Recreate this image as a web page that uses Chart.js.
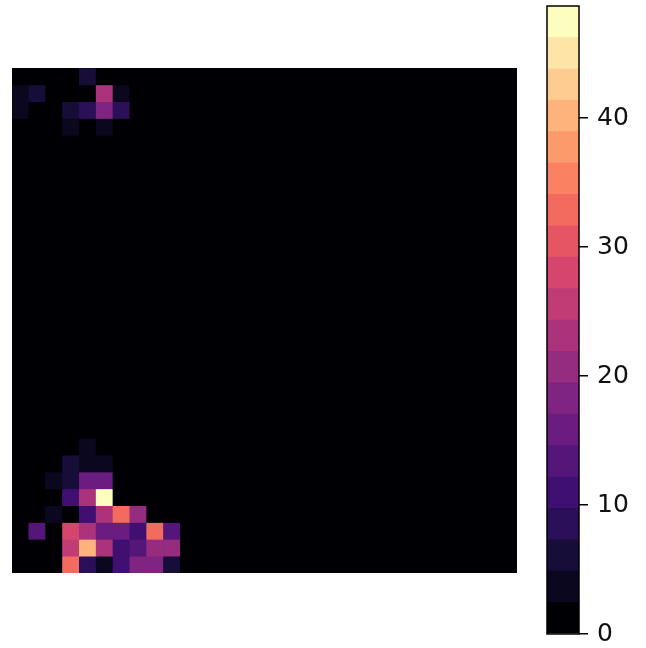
<!DOCTYPE html>
<html>
<head>
<meta charset="utf-8">
<script src="https://cdn.jsdelivr.net/npm/chart.js@4.4.1/dist/chart.umd.min.js"></script>
<style>
  body { margin: 0; background: #fff; width: 646px; height: 648px; overflow: hidden; position: relative; }
  canvas { position: absolute; top: 0; }
  #heat { left: 0; }
  #cbar { left: 540px; }
</style>
</head>
<body>
<canvas id="heat" width="530" height="600"></canvas>
<canvas id="cbar" width="106" height="648"></canvas>
<script>
// grid is 30 x 30, row 0 at the top
const gridSize = 30;
const colLabels = Array.from({ length: gridSize }, (_, i) => String(i));

// non-zero cells: [row, col, value]
const hotCells = [
  [0, 4, 6],
  [1, 0, 3], [1, 1, 6], [1, 5, 24], [1, 6, 3],
  [2, 0, 3], [2, 3, 6], [2, 4, 9], [2, 5, 18], [2, 6, 9],
  [3, 3, 3], [3, 5, 3],
  [22, 4, 3],
  [23, 3, 6], [23, 4, 3], [23, 5, 3],
  [24, 2, 3], [24, 3, 6], [24, 4, 16], [24, 5, 16],
  [25, 3, 11], [25, 4, 24], [25, 5, 48.7],
  [26, 2, 3], [26, 4, 11], [26, 5, 23], [26, 6, 33], [26, 7, 20],
  [27, 1, 13], [27, 3, 28.5], [27, 4, 23.5], [27, 5, 16], [27, 6, 16], [27, 7, 11], [27, 8, 34], [27, 9, 13],
  [28, 3, 26], [28, 4, 40], [28, 5, 23], [28, 6, 11], [28, 7, 13], [28, 8, 21], [28, 9, 21],
  [29, 3, 33], [29, 4, 8], [29, 5, 3], [29, 6, 11], [29, 7, 19], [29, 8, 19], [29, 9, 6],
];

const colorbarTicks = [0, 10, 20, 30, 40];
const nLevels = 20;

// magma anchors every 0.1
const magmaStops = [
  [0, 0, 4], [20, 14, 54], [59, 15, 112], [100, 26, 128], [140, 41, 129],
  [183, 55, 121], [222, 73, 104], [247, 112, 92], [254, 159, 109],
  [254, 207, 146], [252, 253, 191],
];

function magma(t) {
  t = Math.max(0, Math.min(1, t));
  const pos = t * (magmaStops.length - 1);
  const i = Math.min(Math.floor(pos), magmaStops.length - 2);
  const f = pos - i;
  const a = magmaStops[i], b = magmaStops[i + 1];
  const c = a.map((v, k) => Math.round(v + (b[k] - v) * f));
  return `rgb(${c[0]}, ${c[1]}, ${c[2]})`;
}

const vmax = Math.max(...hotCells.map((c) => c[2]));
const levelColors = Array.from({ length: nLevels }, (_, i) => magma(i / (nLevels - 1)));

function colorFor(v) {
  const lvl = Math.min(nLevels - 1, Math.floor((v / vmax) * nLevels));
  return levelColors[lvl];
}

// build the value grid
const grid = Array.from({ length: gridSize }, () => Array(gridSize).fill(0));
hotCells.forEach(([r, c, v]) => { grid[r][c] = v; });

const fillArea = {
  id: "fillArea",
  beforeDatasetsDraw(chart) {
    const { ctx, chartArea: a } = chart;
    ctx.save();
    ctx.fillStyle = levelColors[0];
    ctx.fillRect(a.left, a.top, a.right - a.left, a.bottom - a.top);
    ctx.restore();
  },
};

new Chart(document.getElementById("heat"), {
  type: "bar",
  data: {
    labels: colLabels,
    datasets: grid.map((row, r) => ({
      label: "row " + r,
      data: row.map(() => 1),
      backgroundColor: row.map((v) => colorFor(v)),
      borderWidth: 0,
      barPercentage: 1,
      categoryPercentage: 1,
    })),
  },
  options: {
    responsive: false,
    animation: false,
    layout: { padding: { left: 12, top: 68, right: 13, bottom: 27 } },
    plugins: { legend: { display: false }, tooltip: { enabled: false } },
    scales: {
      x: { stacked: true, display: false },
      y: { stacked: true, display: false, min: 0, max: gridSize, reverse: true },
    },
  },
  plugins: [fillArea],
});

const outline = {
  id: "outline",
  afterDraw(chart) {
    const { ctx, chartArea: a } = chart;
    ctx.save();
    ctx.strokeStyle = "#000";
    ctx.lineWidth = 1.5;
    ctx.strokeRect(a.left, a.top, a.right - a.left, a.bottom - a.top);
    ctx.restore();
  },
};

const step = vmax / nLevels;

new Chart(document.getElementById("cbar"), {
  type: "bar",
  data: {
    labels: [""],
    datasets: levelColors.map((col, i) => ({
      label: "level " + i,
      data: [step],
      backgroundColor: col,
      borderWidth: 0,
      barPercentage: 1,
      categoryPercentage: 1,
    })),
  },
  options: {
    responsive: false,
    animation: false,
    layout: { padding: { left: 7, top: 6, right: 10, bottom: 14 } },
    plugins: { legend: { display: false }, tooltip: { enabled: false } },
    scales: {
      x: { stacked: true, display: false },
      y: {
        stacked: true,
        position: "right",
        min: 0,
        max: vmax,
        afterBuildTicks(scale) {
          scale.ticks = colorbarTicks.map((v) => ({ value: v }));
        },
        afterFit(scale) {
          scale.width = 57;
          scale.paddingTop = 0;
          scale.paddingBottom = 0;
        },
        border: { display: false },
        grid: { drawOnChartArea: false, drawTicks: true, tickLength: 9, color: "#000", lineWidth: 1.5 },
        ticks: {
          padding: 9,
          color: "#111",
          font: { family: "DejaVu Sans", size: 25 },
        },
      },
    },
  },
  plugins: [outline],
});
</script>
</body>
</html>
